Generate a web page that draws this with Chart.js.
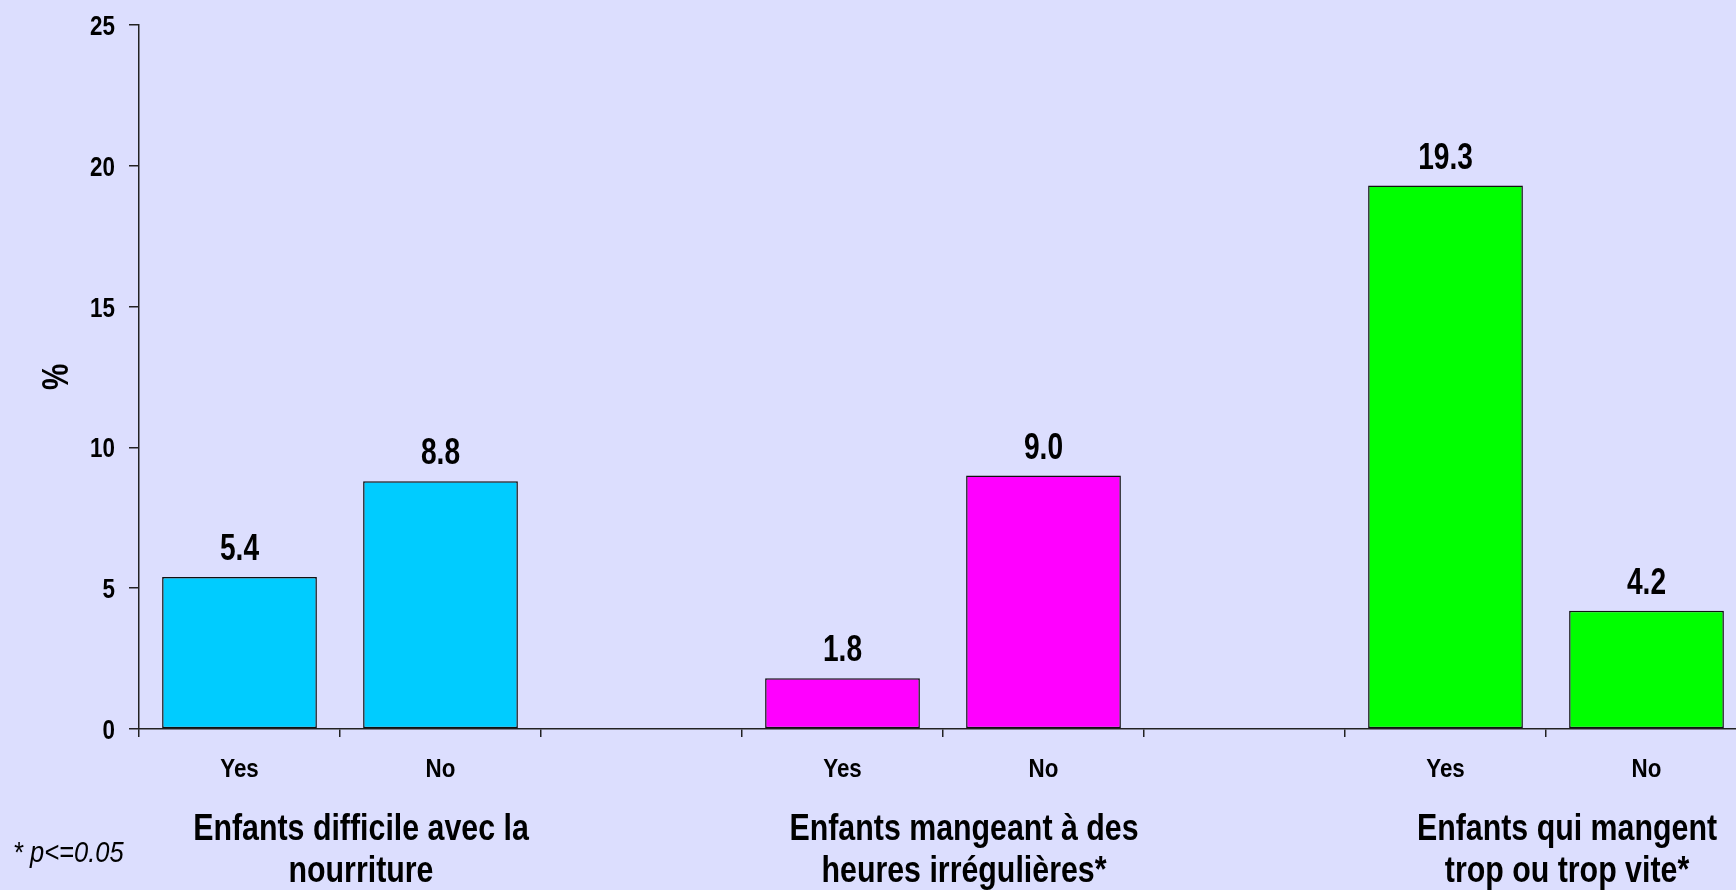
<!DOCTYPE html>
<html>
<head>
<meta charset="utf-8">
<script src="https://cdn.jsdelivr.net/npm/chart.js@4.4.1/dist/chart.umd.min.js"></script>
<style>
  html, body { margin: 0; padding: 0; background: #dcdefe; overflow: hidden; }
  #wrap { position: relative; width: 1736px; height: 890px; overflow: hidden; }
  #box { position: absolute; left: 0; top: 0; width: 1750px; height: 890px; }
</style>
</head>
<body>
<div id="wrap">
  <div id="box"><canvas id="chart"></canvas></div>
</div>
<script>
const categories = ["Yes", "No", "", "Yes", "No", "", "Yes", "No"];
const values = [5.4, 8.8, null, 1.8, 9.0, null, 19.3, 4.2];
const barColors = ["#00ccff", "#00ccff", null, "#ff00ff", "#ff00ff", null, "#00ff00", "#00ff00"];
const groupLabels = [
  ["Enfants difficile avec la", "nourriture"],
  ["Enfants mangeant à des", "heures irrégulières*"],
  ["Enfants qui mangent", "trop ou trop vite*"],
];
const groupStarts = [0, 3, 6];
const yTicks = [0, 5, 10, 15, 20, 25];
const yTitle = "%";
const footnote = "* p<=0.05";

// Arial Narrow look: Liberation Sans squeezed sideways
const FONT = '"Liberation Sans", Arial, sans-serif';

function narrowText(ctx, text, x, y, font, squeeze, align = "center") {
  ctx.save();
  ctx.font = font;
  ctx.textAlign = align;
  ctx.textBaseline = "alphabetic";
  ctx.translate(x, y);
  ctx.scale(squeeze, 1);
  ctx.fillText(text, 0, 0);
  ctx.restore();
}

const textPlugin = {
  id: "chartText",
  afterDraw(chart) {
    const ctx = chart.ctx;
    const x = chart.scales.x;
    const y = chart.scales.y;
    ctx.save();
    ctx.fillStyle = "#000";

    // y tick labels
    yTicks.forEach((v) => {
      narrowText(ctx, String(v), y.left - 14, y.getPixelForValue(v) + 10, `bold 28px ${FONT}`, 0.8, "right");
    });

    // x tick labels
    categories.forEach((c, i) => {
      if (!c) return;
      narrowText(ctx, c, x.getPixelForValue(i), 777, `bold 26px ${FONT}`, 0.86);
    });

    // value labels
    const meta = chart.getDatasetMeta(0);
    meta.data.forEach((bar, i) => {
      if (values[i] == null) return;
      narrowText(ctx, values[i].toFixed(1), bar.x, bar.y - 17, `bold 37px ${FONT}`, 0.76);
    });

    // group labels
    groupLabels.forEach((lines, g) => {
      const start = groupStarts[g];
      const cx = (x.getPixelForValue(start) + x.getPixelForValue(start + 1)) / 2 + 21;
      lines.forEach((line, k) => {
        narrowText(ctx, line, cx, 840 + k * 42, `bold 37px ${FONT}`, 0.82);
      });
    });

    // y title
    ctx.save();
    ctx.translate(68, (y.top + y.bottom) / 2);
    ctx.rotate(-Math.PI / 2);
    narrowText(ctx, yTitle, 0, 0, `bold 36px ${FONT}`, 0.82);
    ctx.restore();

    // footnote
    narrowText(ctx, footnote, 13, 862, `italic 30px ${FONT}`, 0.85, "left");

    ctx.restore();
  },
};

new Chart(document.getElementById("chart"), {
  type: "bar",
  data: {
    labels: categories,
    datasets: [
      {
        data: values,
        backgroundColor: barColors,
        borderColor: "#111",
        borderWidth: 1.5,
        borderSkipped: false,
        barPercentage: 0.77,
        categoryPercentage: 1,
      },
    ],
  },
  options: {
    responsive: true,
    maintainAspectRatio: false,
    animation: false,
    layout: { padding: { top: 25, right: 3, bottom: 153, left: 129 } },
    plugins: {
      legend: { display: false },
      tooltip: { enabled: false },
    },
    scales: {
      x: {
        grid: {
          offset: true,
          drawOnChartArea: false,
          drawTicks: true,
          tickLength: 8,
          color: "#222",
          lineWidth: 1.5,
        },
        border: { display: true, color: "#222", width: 1.5 },
        ticks: { display: false },
      },
      y: {
        min: 0,
        max: 25,
        afterBuildTicks(axis) {
          axis.ticks = yTicks.map((v) => ({ value: v }));
        },
        grid: {
          drawOnChartArea: false,
          drawTicks: true,
          tickLength: 10,
          color: "#222",
          lineWidth: 1.5,
        },
        border: { display: true, color: "#222", width: 1.5 },
        ticks: { display: false },
      },
    },
  },
  plugins: [textPlugin],
});
</script>
</body>
</html>
